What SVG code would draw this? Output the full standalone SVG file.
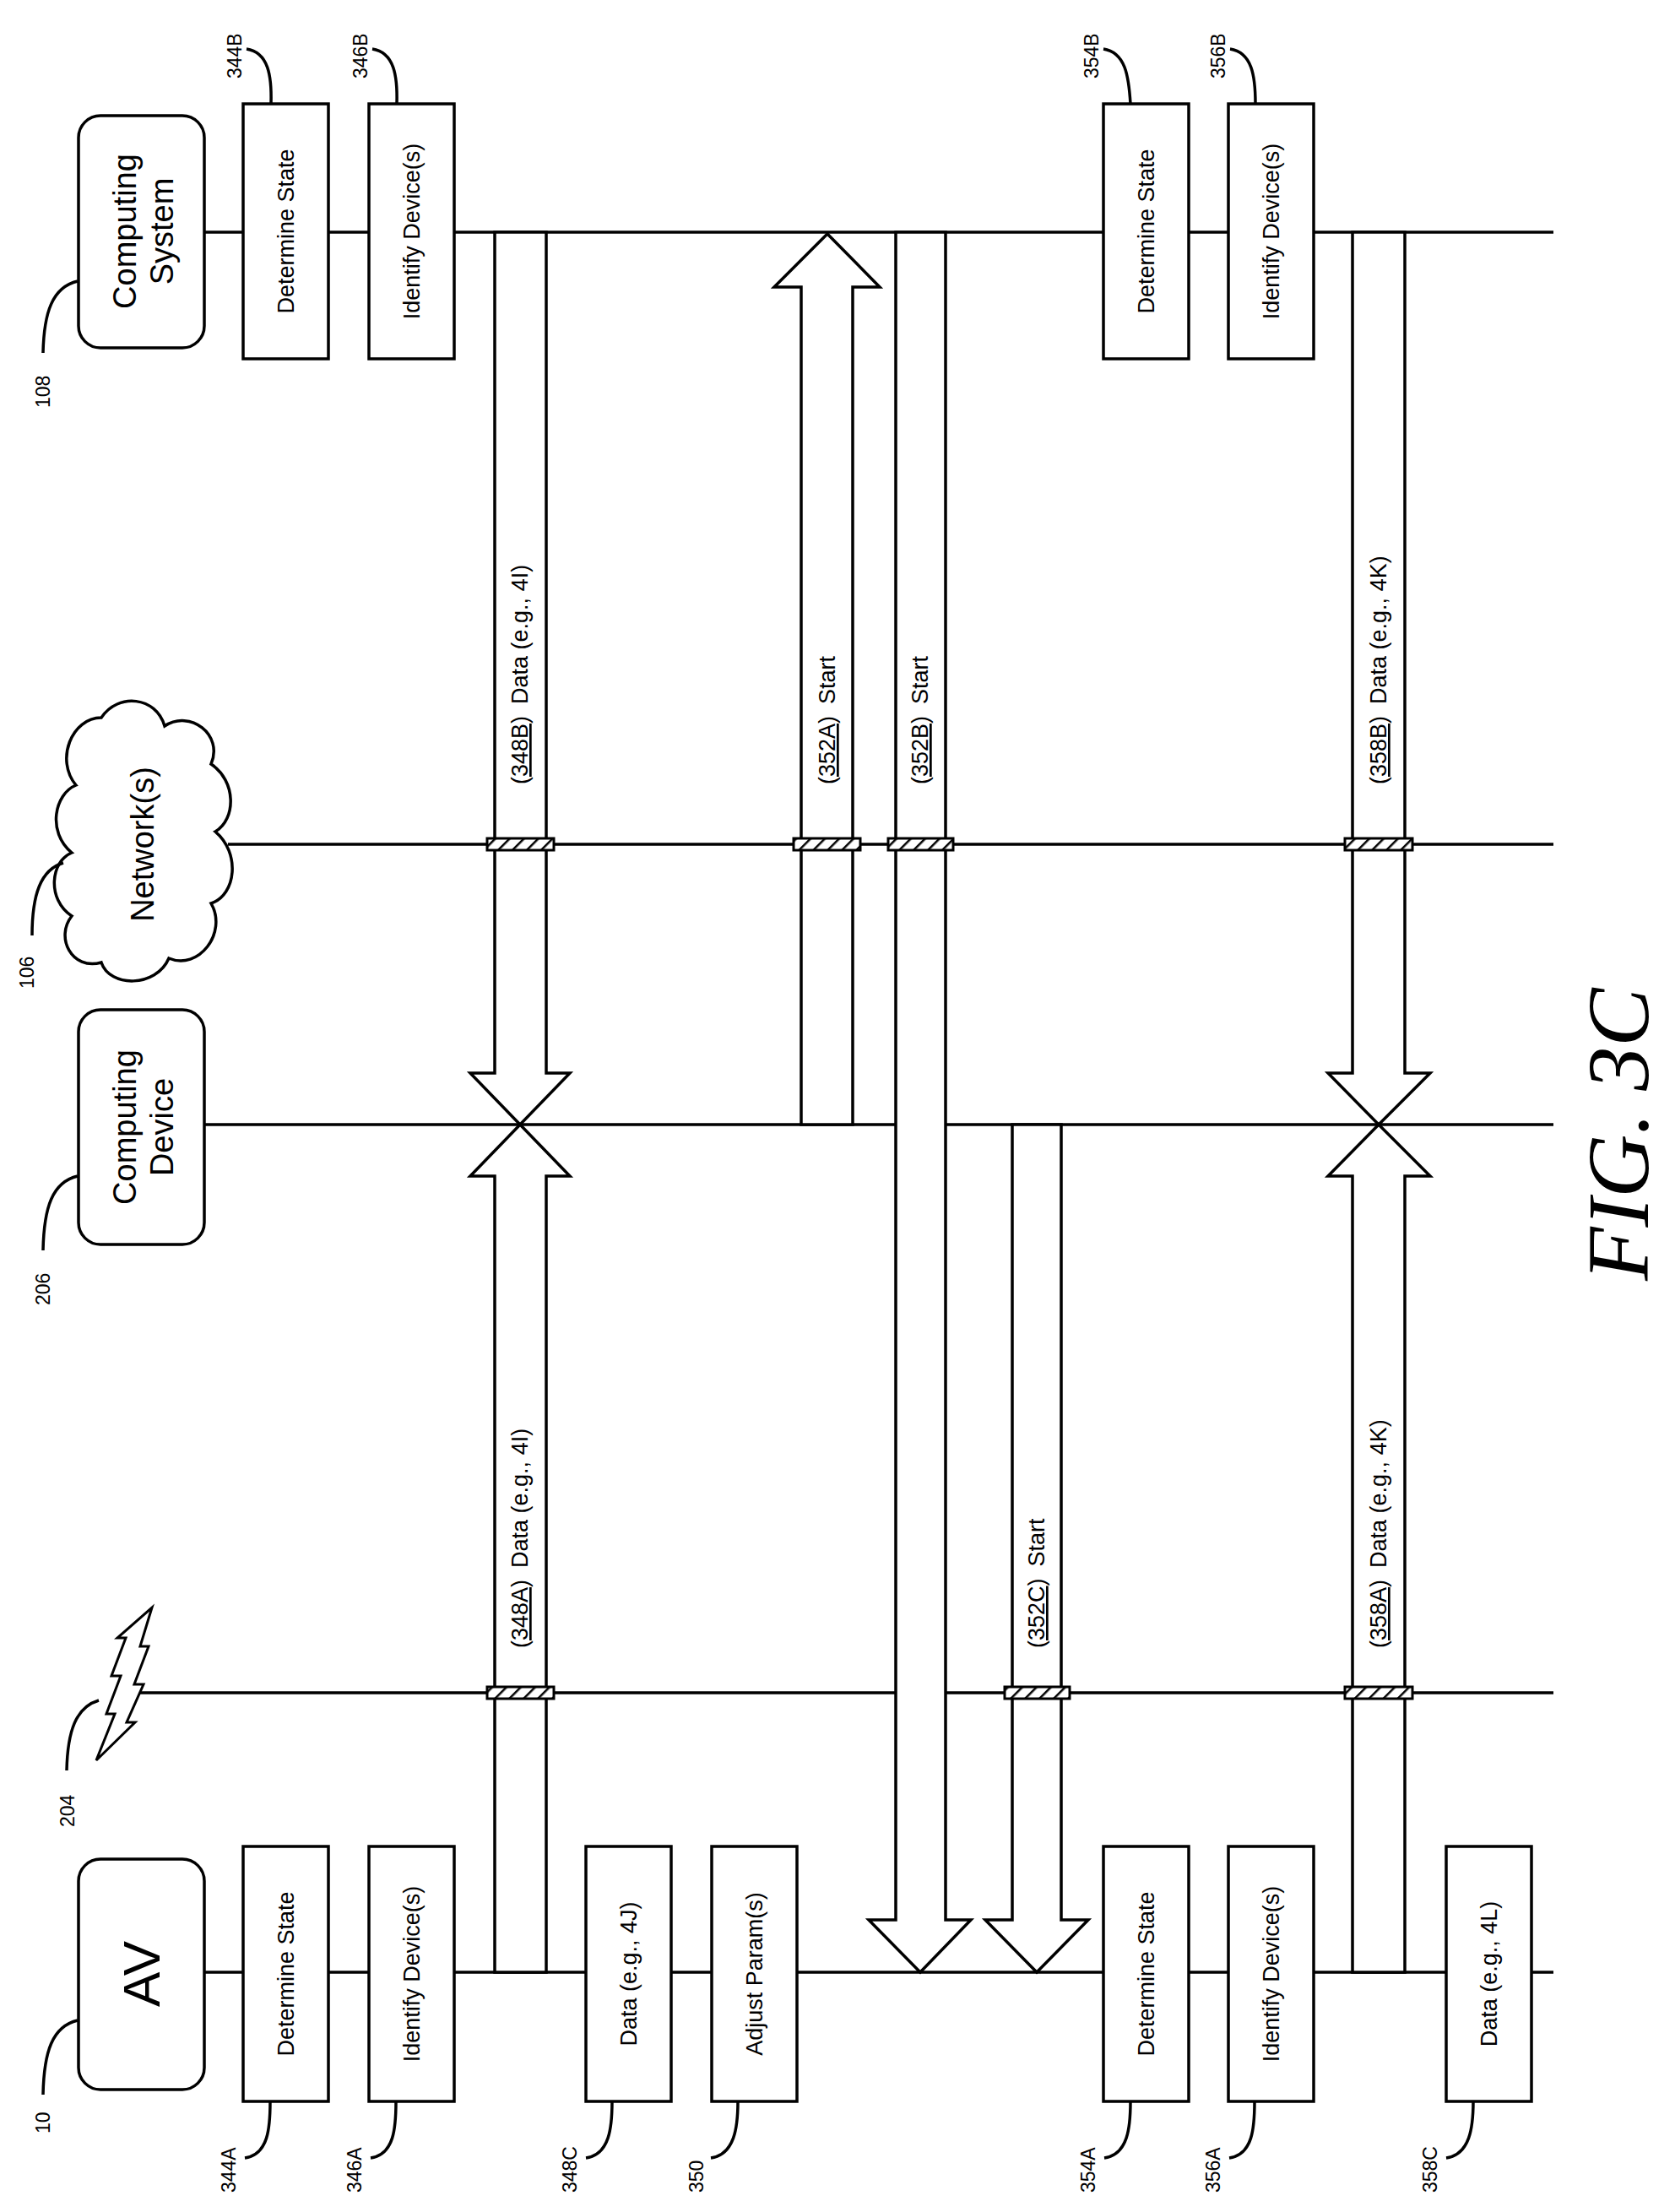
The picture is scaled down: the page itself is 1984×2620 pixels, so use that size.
<svg xmlns="http://www.w3.org/2000/svg" width="1984" height="2620" viewBox="0 0 1984 2620">
<style>
.ln{stroke:#000;stroke-width:3.5;fill:none}
.box{fill:#fff;stroke:#000;stroke-width:3.5}
.ar{fill:#fff;stroke:#000;stroke-width:3.5;stroke-linejoin:miter}
.t{font-family:"Liberation Sans",Arial,sans-serif;fill:#000}
.bt{font-size:27px;text-anchor:middle}
.lab{font-size:27px}
.ref{font-size:23px}
.mk{fill:url(#hatch);stroke:#000;stroke-width:3}
</style>
<defs>
<pattern id="hatch" patternUnits="userSpaceOnUse" width="12" height="12" patternTransform="rotate(45)">
<rect width="12" height="12" fill="#fff"/><line x1="0" y1="0" x2="0" y2="12" stroke="#000" stroke-width="5"/>
</pattern>
</defs>
<rect width="1984" height="2620" fill="#fff"/>
<g id="lifelines">
<line class="ln" x1="242" y1="275" x2="1840" y2="275"/>
<line class="ln" x1="270" y1="1000" x2="1840" y2="1000"/>
<line class="ln" x1="242" y1="1332" x2="1840" y2="1332"/>
<line class="ln" x1="159" y1="2005" x2="1840" y2="2005"/>
<line class="ln" x1="242" y1="2336" x2="1840" y2="2336"/>
</g>
<g id="node-cs"><rect class="box" x="93" y="137" width="149" height="275" rx="26"/>
<text class="t" text-anchor="middle" font-size="38" transform="translate(167,274) rotate(-90)"><tspan x="0" y="-6">Computing</tspan><tspan x="0" y="38">System</tspan></text></g>
<g id="node-network"><path class="box" d="M120,850 C140,820 185,825 195,860 C225,840 265,870 250,905 C280,925 280,970 255,985 C285,1010 280,1060 250,1070 C270,1105 235,1150 200,1135 C185,1170 130,1170 120,1140 C85,1150 65,1110 85,1085 C55,1065 60,1020 85,1010 C55,985 65,940 90,930 C65,900 85,850 120,850 Z"/>
<text class="t" text-anchor="middle" font-size="38" transform="translate(182,1000) rotate(-90)">Network(s)</text></g>
<g id="node-cd"><rect class="box" x="93" y="1196" width="149" height="278" rx="26"/>
<text class="t" text-anchor="middle" font-size="38" transform="translate(167,1335) rotate(-90)"><tspan x="0" y="-6">Computing</tspan><tspan x="0" y="38">Device</tspan></text></g>
<g id="node-wireless"><polygon fill="#fff" stroke="#000" stroke-width="3" points="180,1904 166,1950 176,1950 159,1995 170,1995 150,2040 160,2040 114,2085 136,2030 126,2030 143,1985 132,1985 149,1940 139,1940"/></g>
<g id="node-av"><rect class="box" x="93" y="2202" width="149" height="273" rx="26"/>
<text class="t" text-anchor="middle" font-size="62" transform="translate(189,2338) rotate(-90)">AV</text></g>
<g id="boxes">
<g id="b344B"><rect class="box" x="288" y="123" width="101" height="302"/><text class="t bt" transform="translate(348,274) rotate(-90)">Determine State</text></g>
<g id="b346B"><rect class="box" x="437" y="123" width="101" height="302"/><text class="t bt" transform="translate(497,274) rotate(-90)">Identify Device(s)</text></g>
<g id="b354B"><rect class="box" x="1307" y="123" width="101" height="302"/><text class="t bt" transform="translate(1367,274) rotate(-90)">Determine State</text></g>
<g id="b356B"><rect class="box" x="1455" y="123" width="101" height="302"/><text class="t bt" transform="translate(1515,274) rotate(-90)">Identify Device(s)</text></g>
<g id="b344A"><rect class="box" x="288" y="2187" width="101" height="302"/><text class="t bt" transform="translate(348,2338) rotate(-90)">Determine State</text></g>
<g id="b346A"><rect class="box" x="437" y="2187" width="101" height="302"/><text class="t bt" transform="translate(497,2338) rotate(-90)">Identify Device(s)</text></g>
<g id="b348C"><rect class="box" x="694" y="2187" width="101" height="302"/><text class="t bt" transform="translate(754,2338) rotate(-90)">Data (e.g., 4J)</text></g>
<g id="b350"><rect class="box" x="843" y="2187" width="101" height="302"/><text class="t bt" transform="translate(903,2338) rotate(-90)">Adjust Param(s)</text></g>
<g id="b354A"><rect class="box" x="1307" y="2187" width="101" height="302"/><text class="t bt" transform="translate(1367,2338) rotate(-90)">Determine State</text></g>
<g id="b356A"><rect class="box" x="1455" y="2187" width="101" height="302"/><text class="t bt" transform="translate(1515,2338) rotate(-90)">Identify Device(s)</text></g>
<g id="b358C"><rect class="box" x="1713" y="2187" width="101" height="302"/><text class="t bt" transform="translate(1773,2338) rotate(-90)">Data (e.g., 4L)</text></g>
</g>
<g id="connectors">
<polygon class="ar" points="586,275 586,1271 557,1271 616,1332 675,1271 647,1271 647,275"/>
<polygon class="ar" points="586,2336 586,1393 557,1393 616,1332 675,1393 647,1393 647,2336"/>
<polygon class="ar" points="949,1332 949,340 917,340 980,277 1042,340 1010,340 1010,1332"/>
<polygon class="ar" points="1061,275 1061,2274 1029,2274 1090,2336 1150,2274 1120,2274 1120,275"/>
<polygon class="ar" points="1199,1332 1199,2274 1167,2274 1228,2336 1289,2274 1257,2274 1257,1332"/>
<polygon class="ar" points="1602,275 1602,1271 1573,1271 1633,1332 1694,1271 1664,1271 1664,275"/>
<polygon class="ar" points="1602,2336 1602,1393 1573,1393 1633,1332 1694,1393 1664,1393 1664,2336"/>
<rect class="mk" x="577" y="993" width="79" height="14"/>
<rect class="mk" x="940" y="993" width="79" height="14"/>
<rect class="mk" x="1052" y="993" width="77" height="14"/>
<rect class="mk" x="1593" y="993" width="80" height="14"/>
<rect class="mk" x="577" y="1998" width="79" height="14"/>
<rect class="mk" x="1190" y="1998" width="77" height="14"/>
<rect class="mk" x="1593" y="1998" width="80" height="14"/>
<text class="t lab" transform="translate(625,929) rotate(-90)">(<tspan text-decoration="underline">348B</tspan>)<tspan dx="14">Data (e.g., 4I)</tspan></text>
<text class="t lab" transform="translate(989,929) rotate(-90)">(<tspan text-decoration="underline">352A</tspan>)<tspan dx="14">Start</tspan></text>
<text class="t lab" transform="translate(1099,929) rotate(-90)">(<tspan text-decoration="underline">352B</tspan>)<tspan dx="14">Start</tspan></text>
<text class="t lab" transform="translate(1642,929) rotate(-90)">(<tspan text-decoration="underline">358B</tspan>)<tspan dx="14">Data (e.g., 4K)</tspan></text>
<text class="t lab" transform="translate(625,1952) rotate(-90)">(<tspan text-decoration="underline">348A</tspan>)<tspan dx="14">Data (e.g., 4I)</tspan></text>
<text class="t lab" transform="translate(1237,1952) rotate(-90)">(<tspan text-decoration="underline">352C</tspan>)<tspan dx="14">Start</tspan></text>
<text class="t lab" transform="translate(1642,1952) rotate(-90)">(<tspan text-decoration="underline">358A</tspan>)<tspan dx="14">Data (e.g., 4K)</tspan></text>
</g>
<g id="refs">
<text class="t ref" transform="translate(286,93) rotate(-90)">344B</text><path class="ln" stroke-width="2.5" d="M292,58 C318,62 322,90 321,123"/>
<text class="t ref" transform="translate(435,93) rotate(-90)">346B</text><path class="ln" stroke-width="2.5" d="M441,58 C467,62 471,90 470,123"/>
<text class="t ref" transform="translate(1301,93) rotate(-90)">354B</text><path class="ln" stroke-width="2.5" d="M1307,58 C1333,62 1337,90 1339,123"/>
<text class="t ref" transform="translate(1451,93) rotate(-90)">356B</text><path class="ln" stroke-width="2.5" d="M1457,58 C1483,62 1487,90 1487,123"/>
<text class="t ref" transform="translate(59,483) rotate(-90)">108</text><path class="ln" stroke-width="2.5" d="M51,418 C52,370 62,340 92,333"/>
<text class="t ref" transform="translate(40,1171) rotate(-90)">106</text><path class="ln" stroke-width="2.5" d="M38,1108 C38,1060 48,1030 75,1022"/>
<text class="t ref" transform="translate(59,1546) rotate(-90)">206</text><path class="ln" stroke-width="2.5" d="M51,1481 C52,1430 62,1400 92,1393"/>
<text class="t ref" transform="translate(88,2164) rotate(-90)">204</text><path class="ln" stroke-width="2.5" d="M79,2097 C80,2050 90,2022 117,2014"/>
<text class="t ref" transform="translate(59,2527) rotate(-90)">10</text><path class="ln" stroke-width="2.5" d="M51,2481 C52,2430 62,2400 92,2393"/>
<text class="t ref" transform="translate(279,2597) rotate(-90)">344A</text><path class="ln" stroke-width="2.5" d="M290,2556 C318,2552 320,2520 320,2489"/>
<text class="t ref" transform="translate(428,2597) rotate(-90)">346A</text><path class="ln" stroke-width="2.5" d="M439,2556 C467,2552 469,2520 469,2489"/>
<text class="t ref" transform="translate(683,2597) rotate(-90)">348C</text><path class="ln" stroke-width="2.5" d="M694,2556 C722,2552 725,2520 725,2489"/>
<text class="t ref" transform="translate(833,2597) rotate(-90)">350</text><path class="ln" stroke-width="2.5" d="M842,2556 C870,2552 874,2520 874,2489"/>
<text class="t ref" transform="translate(1297,2597) rotate(-90)">354A</text><path class="ln" stroke-width="2.5" d="M1308,2556 C1336,2552 1339,2520 1339,2489"/>
<text class="t ref" transform="translate(1445,2597) rotate(-90)">356A</text><path class="ln" stroke-width="2.5" d="M1456,2556 C1484,2552 1486,2520 1486,2489"/>
<text class="t ref" transform="translate(1702,2597) rotate(-90)">358C</text><path class="ln" stroke-width="2.5" d="M1713,2556 C1741,2552 1745,2520 1745,2489"/>
</g>
<text font-family="Liberation Serif,serif" font-style="italic" font-size="104" transform="translate(1952,1517) rotate(-90)">FIG. 3C</text>
</svg>
